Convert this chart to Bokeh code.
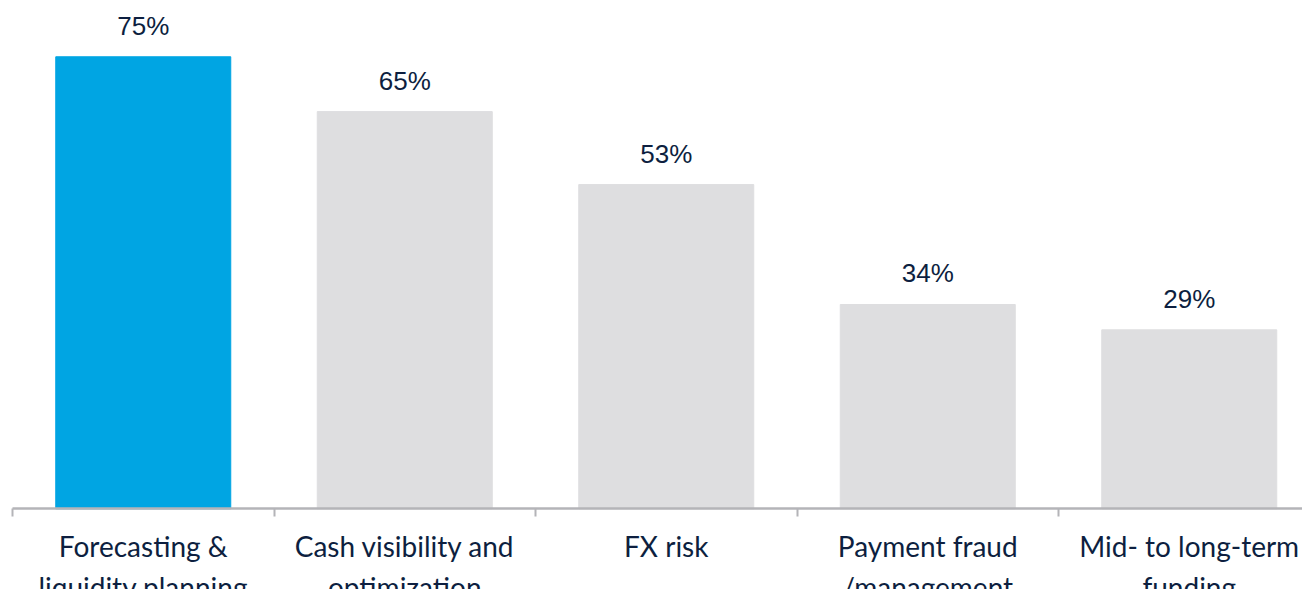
from bokeh.plotting import figure
from bokeh.models import Range1d, FixedTicker, ColumnDataSource
from bokeh.embed import file_html
from bokeh.resources import INLINE
from bokeh.core.properties import value

categories = ["Forecasting &\nliquidity planning", "Cash visibility and\noptimization",
              "FX risk", "Payment fraud\n/management", "Mid- to long-term\nfunding"]
values = [75, 65.9, 53.8, 33.9, 29.7]
labels = ["75%", "65%", "53%", "34%", "29%"]
colors = ["#00a5e3", "#dedee0", "#dedee0", "#dedee0", "#dedee0"]

xs = [i + 0.5 for i in range(len(categories))]
src = ColumnDataSource(dict(x=xs, top=values, label=labels, color=colors))

W, H = 1302, 589
px_per_unit = 261.5
x_start = -12 / px_per_unit
x_end = x_start + W / px_per_unit
y_scale = 6.027
base = 508.3
y_end = base / y_scale
y_start = -(H - base) / y_scale

p = figure(width=W, height=H, output_backend="svg", toolbar_location=None,
           x_range=Range1d(x_start, x_end), y_range=Range1d(y_start, y_end),
           y_axis_location=None, min_border=0, outline_line_color=None)
p.grid.visible = False
p.background_fill_color = "white"

p.vbar(x="x", top="top", bottom=0, width=175 / px_per_unit, color="color", source=src)
p.text(x="x", y="top", text="label", source=src, y_offset=-31,
       text_align="center", text_baseline="alphabetic",
       text_font=value("Liberation Sans"), text_font_size="26px", text_color="#0d1f40")

ax = p.xaxis[0]
ax.fixed_location = 0
ax.bounds = (0, 5)
ax.ticker = FixedTicker(ticks=xs, minor_ticks=[0, 1, 2, 3, 4, 5])
ax.major_label_overrides = {x: c for x, c in zip(xs, categories)}
ax.axis_line_color = "#b4b4b8"
ax.axis_line_width = 2.5
ax.major_tick_line_color = None
ax.major_tick_out = 0
ax.major_tick_in = 0
ax.minor_tick_line_color = "#b4b4b8"
ax.minor_tick_line_width = 2
ax.minor_tick_out = 8
ax.minor_tick_in = 0
ax.major_label_standoff = 12
ax.major_label_text_font = "Lato"
ax.major_label_text_font_size = "28px"
ax.major_label_text_color = "#0d1f40"
ax.major_label_text_align = "center"

open("out.html", "w").write(file_html(p, INLINE))
